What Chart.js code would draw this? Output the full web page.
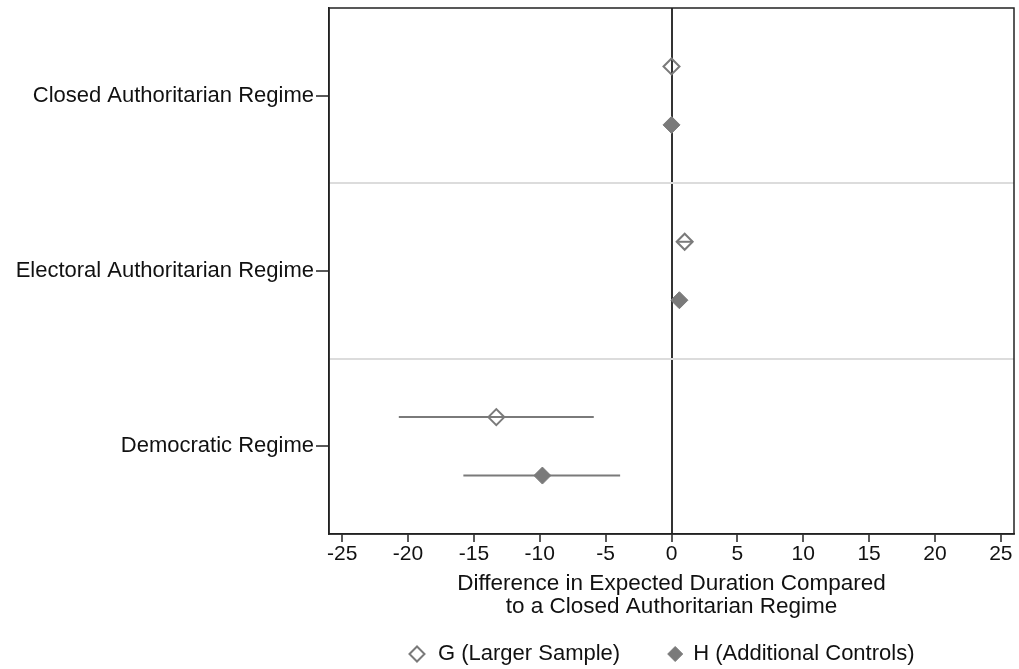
<!DOCTYPE html>
<html>
<head>
<meta charset="utf-8">
<script src="https://cdn.jsdelivr.net/npm/chart.js@4/dist/chart.umd.min.js"></script>
<style>
  html, body { margin: 0; padding: 0; background: #fff; }
  #wrap { width: 1019px; height: 669px; }
</style>
</head>
<body>
<div id="wrap"><canvas id="regime_chart" width="1019" height="669"></canvas></div>
<script>
var categories = ['Closed Authoritarian Regime', 'Electoral Authoritarian Regime', 'Democratic Regime'];

// model G (larger sample)
var g_est = [0, 1.0, -13.3];
var g_low = [0, 0.5, -20.7];
var g_high = [0, 1.6, -5.9];

// model H (additional controls)
var h_est = [0, 0.6, -9.8];
var h_low = [0, 0.6, -15.8];
var h_high = [0, 0.6, -3.9];

var x_ticks = [-25, -20, -15, -10, -5, 0, 5, 10, 15, 20, 25];
var series_labels = ['G (Larger Sample)', 'H (Additional Controls)'];

var grey = '#7a7a7a';
var font_name = '"Liberation Sans", Arial, Helvetica, sans-serif';

var datasets = [];
datasets.push({
  label: series_labels[0],
  data: categories.map(function (c, i) { return {x: g_est[i], y: i + 0.5 - 1 / 6}; }),
  pointStyle: 'rectRot',
  pointRadius: 8,
  backgroundColor: 'rgba(0,0,0,0)',
  borderColor: grey,
  borderWidth: 2,
  order: 0
});
datasets.push({
  label: series_labels[1],
  data: categories.map(function (c, i) { return {x: h_est[i], y: i + 0.5 + 1 / 6}; }),
  pointStyle: 'rectRot',
  pointRadius: 8.5,
  backgroundColor: grey,
  borderColor: grey,
  borderWidth: 1,
  order: 1
});

// confidence interval lines
var add_ci = function (lows, highs, off) {
  lows.forEach(function (lo, i) {
    datasets.push({
      type: 'line',
      label: '',
      data: [{x: lo, y: i + 0.5 + off}, {x: highs[i], y: i + 0.5 + off}],
      showLine: true,
      pointRadius: 0,
      borderColor: grey,
      borderWidth: 2,
      fill: false,
      order: 5
    });
  });
};
add_ci(g_low, g_high, -1 / 6);
add_ci(h_low, h_high, 1 / 6);

// box round the plot region
var frame = {
  id: 'frame',
  afterDraw: function (chart) {
    var a = chart.chartArea, ctx = chart.ctx;
    ctx.save();
    ctx.strokeStyle = '#222';
    ctx.lineWidth = 1.5;
    ctx.strokeRect(a.left, a.top, a.right - a.left, a.bottom - a.top);
    ctx.restore();
  }
};

// legend row under the axis title
var legend_row = {
  id: 'legend_row',
  afterDraw: function (chart) {
    var ctx = chart.ctx;
    var y = 654;
    var x = 409;
    ctx.save();
    ctx.font = '22px ' + font_name;
    ctx.textBaseline = 'middle';
    [0, 1].forEach(function (k) {
      var ds = chart.data.datasets[k];
      ctx.strokeStyle = ds.borderColor;
      ctx.fillStyle = ds.backgroundColor;
      ctx.lineWidth = ds.borderWidth;
      Chart.helpers.drawPoint(ctx, {pointStyle: 'rectRot', radius: 7.5, borderWidth: ds.borderWidth}, x + 8, y);
      ctx.fillStyle = '#111';
      var tx = x + (k === 0 ? 29 : 26);
      ctx.fillText(ds.label, tx, y);
      x = tx + ctx.measureText(ds.label).width + 47;
    });
    ctx.restore();
  }
};

var myChart = new Chart(document.getElementById('regime_chart'), {
  type: 'scatter',
  data: { datasets: datasets },
  plugins: [frame, legend_row],
  options: {
    responsive: false,
    animation: false,
    layout: { autoPadding: false, padding: { top: 8, right: 5, left: 0, bottom: 51 } },
    plugins: {
      tooltip: { enabled: false },
      legend: { display: false }
    },
    scales: {
      x: {
        type: 'linear',
        min: -26,
        max: 26,
        afterBuildTicks: function (scale) {
          scale.ticks = x_ticks.map(function (v) { return {value: v}; });
        },
        afterFit: function (scale) {
          scale.height = 84;
          scale.paddingLeft = 0;
          scale.paddingRight = 0;
        },
        border: { display: true, color: '#222', width: 1.5 },
        grid: {
          color: function (ctx) { return ctx.tick && ctx.tick.value === 0 ? '#333' : 'rgba(0,0,0,0)'; },
          lineWidth: 2,
          tickColor: '#222',
          tickWidth: 1.5,
          tickLength: 8
        },
        ticks: {
          color: '#111',
          padding: 0,
          maxRotation: 0,
          font: { family: font_name, size: 21 }
        },
        title: {
          display: true,
          text: ['Difference in Expected Duration Compared', 'to a Closed Authoritarian Regime'],
          color: '#111',
          font: { family: font_name, size: 22.5, lineHeight: 1.0 },
          padding: { top: 0, bottom: 0 }
        }
      },
      y: {
        type: 'linear',
        min: 0,
        max: 3,
        reverse: true,
        afterBuildTicks: function (scale) {
          scale.ticks = [0.5, 1, 1.5, 2, 2.5].map(function (v) { return {value: v}; });
        },
        afterFit: function (scale) {
          scale.width = 329;
          scale.paddingTop = 0;
          scale.paddingBottom = 0;
        },
        border: { display: true, color: '#222', width: 1.5 },
        grid: {
          color: function (ctx) {
            return ctx.tick && Number.isInteger(ctx.tick.value) ? '#dcdcdc' : 'rgba(0,0,0,0)';
          },
          lineWidth: 2,
          tickColor: function (ctx) {
            return ctx.tick && Number.isInteger(ctx.tick.value) ? 'rgba(0,0,0,0)' : '#222';
          },
          tickWidth: 1.5,
          tickLength: 13
        },
        ticks: {
          color: '#111',
          padding: 2,
          font: { family: font_name, size: 22 },
          callback: function (value) {
            return Number.isInteger(value) ? '' : categories[Math.floor(value)];
          }
        }
      }
    }
  }
});
</script>
</body>
</html>
